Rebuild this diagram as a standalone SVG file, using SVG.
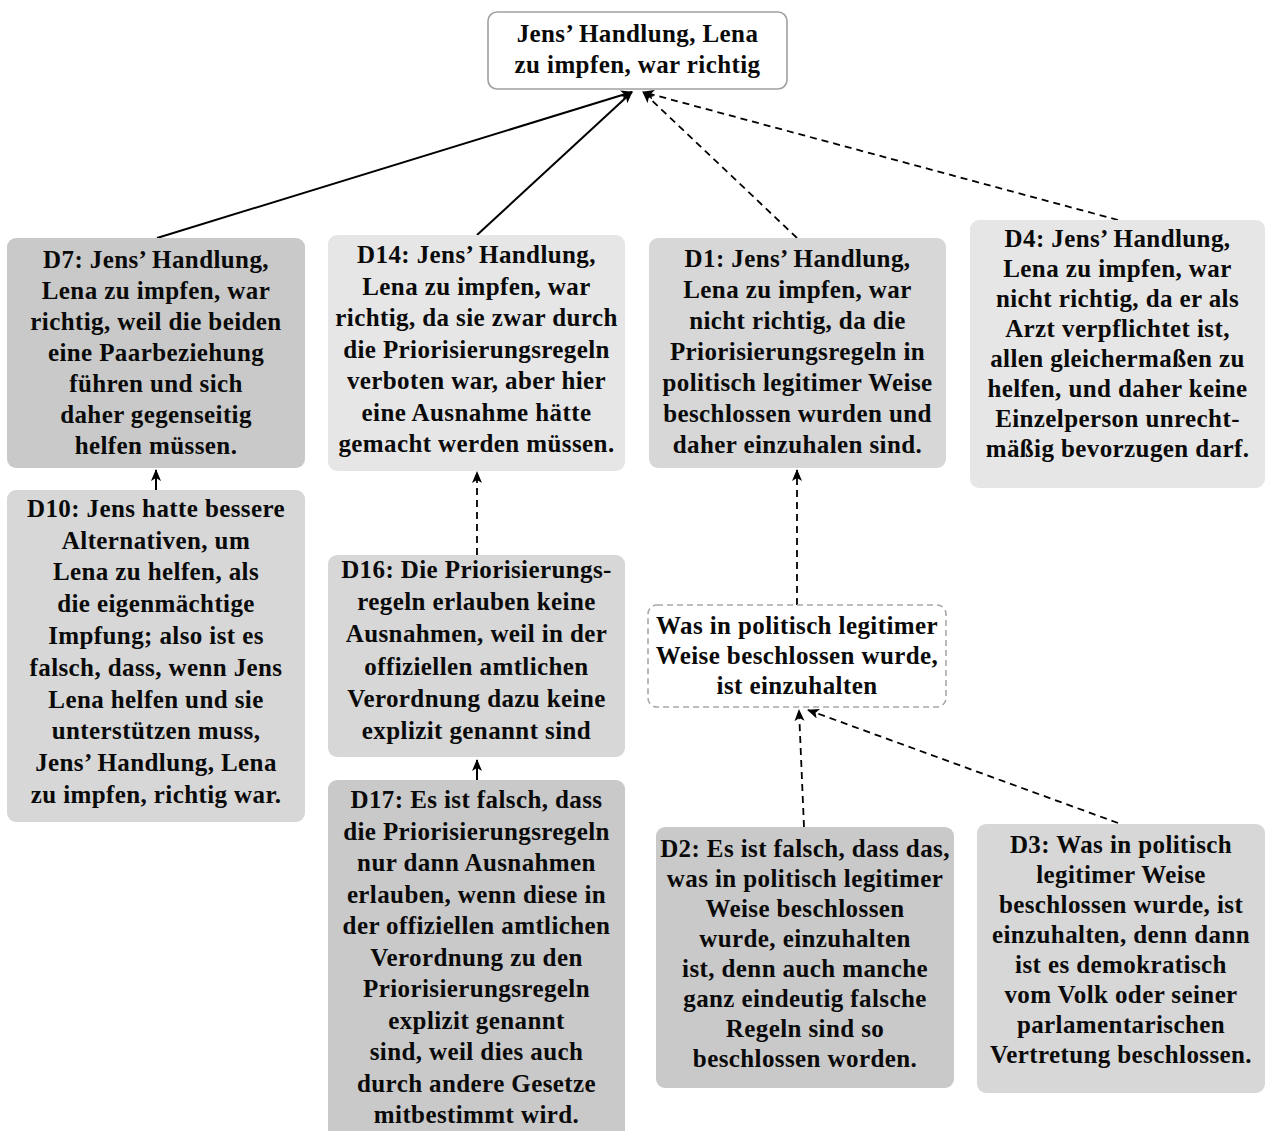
<svg xmlns="http://www.w3.org/2000/svg" width="1268" height="1131" viewBox="0 0 1268 1131">
<style>
.t{font-family:"Liberation Serif","Times New Roman",serif;font-weight:bold;font-size:25px;letter-spacing:0.4px;fill:#0a0a0a;text-anchor:middle}
.c1{fill:#c9c9c9}
.c2{fill:#d7d7d7}
.c3{fill:#e6e6e6}
.main{fill:#fff;stroke:#a0a0a0;stroke-width:1.6}
.claim{fill:#fff;stroke:#a8a8a8;stroke-width:1.6;stroke-dasharray:6 4}
.sol{stroke:#000;stroke-width:2;fill:none;marker-end:url(#ah)}
.das{stroke:#000;stroke-width:1.8;fill:none;stroke-dasharray:7 5;marker-end:url(#ah)}
</style>
<defs>
<marker id="ah" markerUnits="userSpaceOnUse" markerWidth="14" markerHeight="12" refX="11" refY="5" orient="auto">
<path d="M0,0 L12,5 L0,10 L3,5 z" fill="#000"/>
</marker>
</defs>
<rect width="1268" height="1131" fill="#fff"/>
<g id="connectors">
<line class="sol" x1="157" y1="238" x2="632" y2="92"/>
<line class="sol" x1="477" y1="235" x2="632" y2="92"/>
<line class="das" x1="797" y1="238" x2="643" y2="92"/>
<line class="das" x1="1118" y1="220" x2="643" y2="92"/>
<line class="sol" x1="156" y1="490" x2="156" y2="470"/>
<line class="das" x1="477" y1="555" x2="477" y2="472"/>
<line class="sol" x1="477" y1="780" x2="477" y2="760"/>
<line class="das" x1="797" y1="605" x2="797" y2="470"/>
<line class="das" x1="804" y1="827" x2="799" y2="710"/>
<line class="das" x1="1118" y1="823" x2="808" y2="710"/>
</g>
<g id="main">
<rect class="main" x="488" y="12" width="299" height="77" rx="9"/>
<text class="t"><tspan x="637.5" y="42">Jens’ Handlung, Lena</tspan><tspan x="637.5" y="73">zu impfen, war richtig</tspan></text>
</g>
<g id="D7">
<rect class="c1" x="7" y="238" width="298" height="230" rx="9"/>
<text class="t"><tspan x="156" y="268">D7: Jens’ Handlung,</tspan><tspan x="156" y="299">Lena zu impfen, war</tspan><tspan x="156" y="330">richtig, weil die beiden</tspan><tspan x="156" y="361">eine Paarbeziehung</tspan><tspan x="156" y="392">führen und sich</tspan><tspan x="156" y="423">daher gegenseitig</tspan><tspan x="156" y="454">helfen müssen.</tspan></text>
</g>
<g id="D14">
<rect class="c3" x="328" y="235" width="297" height="236" rx="9"/>
<text class="t"><tspan x="476.5" y="263">D14: Jens’ Handlung,</tspan><tspan x="476.5" y="294.5">Lena zu impfen, war</tspan><tspan x="476.5" y="326">richtig, da sie zwar durch</tspan><tspan x="476.5" y="357.5">die Priorisierungsregeln</tspan><tspan x="476.5" y="389">verboten war, aber hier</tspan><tspan x="476.5" y="420.5">eine Ausnahme hätte</tspan><tspan x="476.5" y="452">gemacht werden müssen.</tspan></text>
</g>
<g id="D1">
<rect class="c2" x="649" y="238" width="297" height="230" rx="9"/>
<text class="t"><tspan x="797.5" y="267">D1: Jens’ Handlung,</tspan><tspan x="797.5" y="298">Lena zu impfen, war</tspan><tspan x="797.5" y="329">nicht richtig, da die</tspan><tspan x="797.5" y="360">Priorisierungsregeln in</tspan><tspan x="797.5" y="391">politisch legitimer Weise</tspan><tspan x="797.5" y="422">beschlossen wurden und</tspan><tspan x="797.5" y="453">daher einzuhalen sind.</tspan></text>
</g>
<g id="D4">
<rect class="c3" x="970" y="220" width="295" height="268" rx="9"/>
<text class="t"><tspan x="1117.5" y="247">D4: Jens’ Handlung,</tspan><tspan x="1117.5" y="277">Lena zu impfen, war</tspan><tspan x="1117.5" y="307">nicht richtig, da er als</tspan><tspan x="1117.5" y="337">Arzt verpflichtet ist,</tspan><tspan x="1117.5" y="367">allen gleichermaßen zu</tspan><tspan x="1117.5" y="397">helfen, und daher keine</tspan><tspan x="1117.5" y="427">Einzelperson unrecht-</tspan><tspan x="1117.5" y="457">mäßig bevorzugen darf.</tspan></text>
</g>
<g id="D10">
<rect class="c2" x="7" y="490" width="298" height="332" rx="9"/>
<text class="t"><tspan x="156" y="517">D10: Jens hatte bessere</tspan><tspan x="156" y="549">Alternativen, um</tspan><tspan x="156" y="580">Lena zu helfen, als</tspan><tspan x="156" y="612">die eigenmächtige</tspan><tspan x="156" y="644">Impfung; also ist es</tspan><tspan x="156" y="676">falsch, dass, wenn Jens</tspan><tspan x="156" y="708">Lena helfen und sie</tspan><tspan x="156" y="739">unterstützen muss,</tspan><tspan x="156" y="771">Jens’ Handlung, Lena</tspan><tspan x="156" y="803">zu impfen, richtig war.</tspan></text>
</g>
<g id="D16">
<rect class="c2" x="328" y="555" width="297" height="202" rx="9"/>
<text class="t"><tspan x="476.5" y="578">D16: Die Priorisierungs-</tspan><tspan x="476.5" y="610">regeln erlauben keine</tspan><tspan x="476.5" y="642">Ausnahmen, weil in der</tspan><tspan x="476.5" y="675">offiziellen amtlichen</tspan><tspan x="476.5" y="707">Verordnung dazu keine</tspan><tspan x="476.5" y="739">explizit genannt sind</tspan></text>
</g>
<g id="D17">
<rect class="c1" x="328" y="780" width="297" height="362" rx="9"/>
<text class="t"><tspan x="476.5" y="808">D17: Es ist falsch, dass</tspan><tspan x="476.5" y="839.5">die Priorisierungsregeln</tspan><tspan x="476.5" y="871">nur dann Ausnahmen</tspan><tspan x="476.5" y="902.5">erlauben, wenn diese in</tspan><tspan x="476.5" y="934">der offiziellen amtlichen</tspan><tspan x="476.5" y="965.5">Verordnung zu den</tspan><tspan x="476.5" y="997">Priorisierungsregeln</tspan><tspan x="476.5" y="1028.5">explizit genannt</tspan><tspan x="476.5" y="1060">sind, weil dies auch</tspan><tspan x="476.5" y="1091.5">durch andere Gesetze</tspan><tspan x="476.5" y="1123">mitbestimmt wird.</tspan></text>
</g>
<g id="claim">
<rect class="claim" x="648" y="605" width="298" height="102" rx="9"/>
<text class="t"><tspan x="797" y="634">Was in politisch legitimer</tspan><tspan x="797" y="664">Weise beschlossen wurde,</tspan><tspan x="797" y="694">ist einzuhalten</tspan></text>
</g>
<g id="D2">
<rect class="c1" x="656" y="827" width="298" height="261" rx="9"/>
<text class="t"><tspan x="805" y="857">D2: Es ist falsch, dass das,</tspan><tspan x="805" y="887">was in politisch legitimer</tspan><tspan x="805" y="917">Weise beschlossen</tspan><tspan x="805" y="947">wurde, einzuhalten</tspan><tspan x="805" y="977">ist, denn auch manche</tspan><tspan x="805" y="1007">ganz eindeutig falsche</tspan><tspan x="805" y="1037">Regeln sind so</tspan><tspan x="805" y="1067">beschlossen worden.</tspan></text>
</g>
<g id="D3">
<rect class="c2" x="977" y="824" width="288" height="269" rx="9"/>
<text class="t"><tspan x="1121" y="853">D3: Was in politisch</tspan><tspan x="1121" y="883">legitimer Weise</tspan><tspan x="1121" y="913">beschlossen wurde, ist</tspan><tspan x="1121" y="943">einzuhalten, denn dann</tspan><tspan x="1121" y="973">ist es demokratisch</tspan><tspan x="1121" y="1003">vom Volk oder seiner</tspan><tspan x="1121" y="1033">parlamentarischen</tspan><tspan x="1121" y="1063">Vertretung beschlossen.</tspan></text>
</g>
</svg>
